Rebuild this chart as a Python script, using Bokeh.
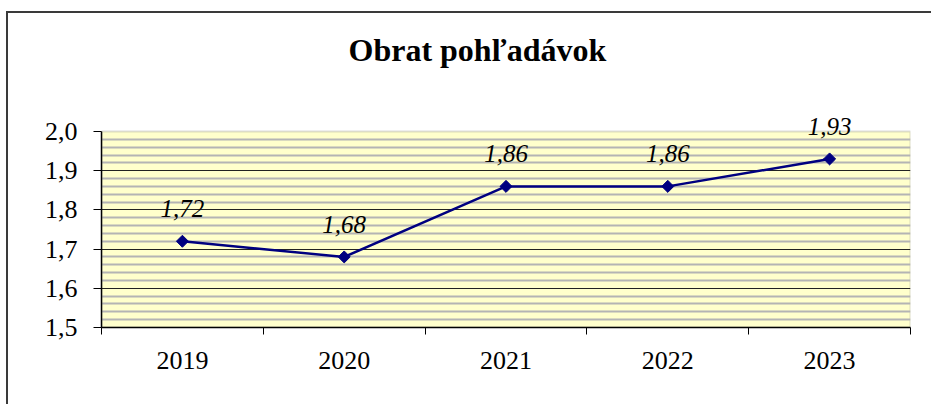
import numpy as np
from bokeh.plotting import figure
from bokeh.models import Range1d, FixedTicker, ColumnDataSource, LabelSet, Title, BoxAnnotation
from bokeh.embed import file_html
from bokeh.resources import INLINE

title_text = "Obrat pohľadávok"
years = ["2019", "2020", "2021", "2022", "2023"]
values = [1.72, 1.68, 1.86, 1.86, 1.93]
y_ticks = [1.5, 1.6, 1.7, 1.8, 1.9, 2.0]
y_tick_labels = ["1,5", "1,6", "1,7", "1,8", "1,9", "2,0"]

xs = [i + 0.5 for i in range(len(years))]
labels = [f"{v:.2f}".replace(".", ",") for v in values]
src = ColumnDataSource(dict(x=xs, y=values, lab=labels))

W, H = 925, 393
# extra headroom above 2,0 so the value labels are not clipped
y_top = y_ticks[-1] + 28 / 392
p = figure(width=W, height=H, output_backend="svg", toolbar_location=None, title=None,
           x_range=Range1d(0, len(years)), y_range=Range1d(y_ticks[0], y_top),
           min_border_left=93, min_border_right=23, min_border_top=90, min_border_bottom=79)
p.styles = {"border-top": "2px solid #3a3a3a", "border-left": "2px solid #3a3a3a",
            "margin-left": "6px", "margin-top": "11px"}

# spacer between title and plot area (inner panel), then the title (outer panel)
p.add_layout(Title(text=" ", text_font_size="1px", standoff=33), "above")
p.add_layout(Title(text=title_text, align="left", text_font="Liberation Serif",
                   text_font_size="32px", text_font_style="bold", text_color="black",
                   standoff=0, offset=247), "above")

p.background_fill_color = "white"
p.border_fill_color = "white"
p.outline_line_color = None

plot_area = BoxAnnotation(left=0, right=len(years), bottom=y_ticks[0], top=y_ticks[-1],
                          fill_color="#FFFFCC", fill_alpha=1, line_color="#8c8c8c",
                          line_width=2, level="image")
p.add_layout(plot_area)

# grid
minor = [round(v, 2) for v in np.arange(1.52, 2.0, 0.02) if abs(round(v * 10) - v * 10) > 1e-6]
p.xgrid.visible = False
p.ygrid.ticker = FixedTicker(ticks=y_ticks[1:-1], minor_ticks=minor)
p.ygrid.grid_line_color = "#222222"
p.ygrid.grid_line_width = 1
p.ygrid.minor_grid_line_color = "#b4b4b4"
p.ygrid.minor_grid_line_width = 2

# y axis
p.yaxis.ticker = FixedTicker(ticks=y_ticks)
p.yaxis.bounds = (y_ticks[0], y_ticks[-1])
p.yaxis.major_label_overrides = {t: l for t, l in zip(y_ticks, y_tick_labels)}
p.yaxis.major_tick_in = 0
p.yaxis.major_tick_out = 8
p.yaxis.minor_tick_out = 0
p.yaxis.major_label_standoff = 16
p.yaxis.axis_line_color = "black"
p.yaxis.axis_line_width = 1.5
p.yaxis.major_tick_line_color = "black"
p.yaxis.major_label_text_font = "Liberation Serif"
p.yaxis.major_label_text_font_size = "26px"
p.yaxis.major_label_text_color = "black"

# x axis
p.xaxis.ticker = FixedTicker(ticks=xs, minor_ticks=list(range(len(years) + 1)))
p.xaxis.major_label_overrides = {x: y for x, y in zip(xs, years)}
p.xaxis.major_tick_in = 0
p.xaxis.major_tick_out = 0
p.xaxis.minor_tick_in = 0
p.xaxis.minor_tick_out = 7
p.xaxis.minor_tick_line_color = "black"
p.xaxis.major_label_standoff = 17
p.xaxis.axis_line_color = "black"
p.xaxis.axis_line_width = 1.5
p.xaxis.major_label_text_font = "Liberation Serif"
p.xaxis.major_label_text_font_size = "26px"
p.xaxis.major_label_text_color = "black"

p.line("x", "y", source=src, line_color="#000080", line_width=2.5)
p.scatter("x", "y", source=src, marker="square", angle=np.pi / 4, size=8.5,
          fill_color="#000080", line_color="#000080")

ls = LabelSet(x="x", y="y", text="lab", source=src, y_offset=24, text_align="center",
              text_baseline="alphabetic", text_font="Liberation Serif", text_font_size="25px",
              text_font_style="italic", text_color="black")
p.add_layout(ls)

open("out.html", "w").write(file_html(p, INLINE))
